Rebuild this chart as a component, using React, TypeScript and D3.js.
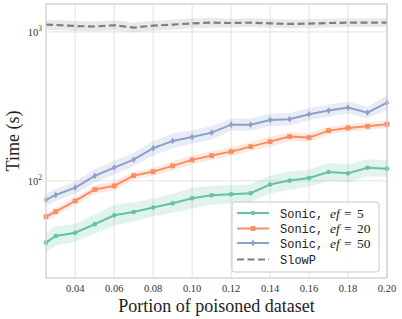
import React from "react";
import * as d3 from "d3";

const portions = [0.025, 0.03, 0.04, 0.05, 0.06, 0.07, 0.08, 0.09, 0.1, 0.11, 0.12, 0.13, 0.14, 0.15, 0.16, 0.17, 0.18, 0.19, 0.2];

const sonic5 = [38.5, 42.7, 44.9, 51.2, 58.8, 61.9, 66.2, 70.8, 76.5, 80.1, 81.4, 82.7, 94.5, 100.5, 104.7, 114.9, 112.6, 122.7, 120.9];
const sonic20 = [57.5, 62.2, 73.4, 87.5, 92.6, 108.6, 115.4, 126.1, 138.4, 147.9, 157.3, 169.9, 183.6, 198.3, 195.3, 217.6, 226.8, 232.8, 240];
const sonic50 = [74.6, 80.5, 90.2, 108.1, 122.8, 139, 165.7, 185.5, 197.2, 210.9, 238.6, 238.6, 256.6, 259.5, 280.4, 296.5, 310.5, 287.4, 335];
const slowP = [1119, 1114, 1096, 1088, 1109, 1069, 1102, 1119, 1142, 1154, 1148, 1154, 1142, 1132, 1137, 1148, 1154, 1154, 1154];

// confidence band, multiplicative half-width
const ci5 = [1.16, 1.16, 1.15, 1.16, 1.17, 1.16, 1.15, 1.16, 1.17, 1.16, 1.15, 1.15, 1.15, 1.15, 1.14, 1.15, 1.15, 1.14, 1.14];
const ci20 = [1.06, 1.06, 1.06, 1.07, 1.07, 1.06, 1.06, 1.07, 1.07, 1.07, 1.07, 1.07, 1.08, 1.07, 1.07, 1.06, 1.06, 1.06, 1.06];
const ci50 = [1.1, 1.1, 1.1, 1.11, 1.11, 1.11, 1.12, 1.12, 1.11, 1.11, 1.1, 1.1, 1.1, 1.1, 1.1, 1.1, 1.1, 1.09, 1.12];
const ciSlow = [1.08, 1.08, 1.08, 1.08, 1.08, 1.08, 1.08, 1.08, 1.08, 1.08, 1.07, 1.07, 1.07, 1.07, 1.07, 1.07, 1.07, 1.07, 1.07];

const xTicks = [0.04, 0.06, 0.08, 0.1, 0.12, 0.14, 0.16, 0.18, 0.2];
const yTicks = [100, 1000];

const width = 402;
const height = 319;
const marginLeft = 46;
const marginRight = 15;
const marginTop = 4;
const marginBottom = 41;

const serif = "'Liberation Serif', 'DejaVu Serif', serif";
const mono = "'Liberation Mono', 'DejaVu Sans Mono', monospace";

const series = [
  { name: "5", values: sonic5, ci: ci5, color: "#66c2a5", marker: "circle" },
  { name: "20", values: sonic20, ci: ci20, color: "#fc8d62", marker: "square" },
  { name: "50", values: sonic50, ci: ci50, color: "#8da0cb", marker: "diamond" },
];

function Marker({ type, x, y, color }: { type: string; x: number; y: number; color: string }) {
  if (type === "circle") return <circle cx={x} cy={y} r={2.3} fill={color} />;
  if (type === "square") return <rect x={x - 2.4} y={y - 2.4} width={4.8} height={4.8} fill={color} />;
  return <path d={`M${x},${y - 3.4}L${x + 2.2},${y}L${x},${y + 3.4}L${x - 2.2},${y}Z`} fill={color} />;
}

export default function App() {
  const x = d3.scaleLinear().domain([0.025, 0.2]).range([marginLeft, width - marginRight]);
  const y = d3.scaleLog().domain([22.3, 1540]).range([height - marginBottom, marginTop]);

  const line = (vals: number[]) =>
    d3
      .line<number>()
      .x((_, i) => x(portions[i]))
      .y((d) => y(d))(vals) || "";
  const band = (vals: number[], ci: number[]) =>
    d3
      .area<number>()
      .x((_, i) => x(portions[i]))
      .y0((d, i) => y(d / ci[i]))
      .y1((d, i) => y(d * ci[i]))(vals) || "";

  const legendX = 232;
  const legendY = 202;
  const rows = [213, 228.5, 243, 259.5];

  return (
    <svg width={width} height={height} style={{ position: "absolute", left: 0, top: 0 }}>
      <rect width={width} height={height} fill="white" />
      {/* grid */}
      {xTicks.map((t) => (
        <line key={t} x1={x(t)} x2={x(t)} y1={marginTop} y2={height - marginBottom} stroke="#e3e3e3" strokeWidth={1} />
      ))}
      {yTicks.map((t) => (
        <line key={t} x1={marginLeft} x2={width - marginRight} y1={y(t)} y2={y(t)} stroke="#e3e3e3" strokeWidth={1} />
      ))}

      {/* bands */}
      <path d={band(slowP, ciSlow)} fill="#9a9a9a" fillOpacity={0.22} />
      {series.map((s) => (
        <path key={s.name} d={band(s.values, s.ci)} fill={s.color} fillOpacity={0.2} />
      ))}

      {/* lines */}
      <path d={line(slowP)} fill="none" stroke="#7f7f7f" strokeWidth={2.2} strokeDasharray="7,3.5" />
      {series.map((s) => (
        <g key={s.name}>
          <path d={line(s.values)} fill="none" stroke={s.color} strokeWidth={2} />
          {s.values.map((v, i) => (
            <Marker key={i} type={s.marker} x={x(portions[i])} y={y(v)} color={s.color} />
          ))}
        </g>
      ))}

      {/* frame */}
      <rect
        x={marginLeft}
        y={marginTop}
        width={width - marginLeft - marginRight}
        height={height - marginTop - marginBottom}
        fill="none"
        stroke="#cccccc"
        strokeWidth={1.2}
      />

      {/* x tick labels */}
      {xTicks.map((t) => (
        <text key={t} x={x(t)} y={height - marginBottom + 14} textAnchor="middle" fontFamily={serif} fontSize={10.5} fill="#333">
          {t.toFixed(2)}
        </text>
      ))}
      {/* y tick labels */}
      {yTicks.map((t) => (
        <text key={t} x={marginLeft - 4} y={y(t) + 4} textAnchor="end" fontFamily={serif} fontSize={10.5} fill="#333">
          10
          <tspan fontSize={7.5} dy={-4.5}>
            {Math.round(Math.log10(t))}
          </tspan>
        </text>
      ))}

      <text x={(marginLeft + width - marginRight) / 2} y={312} textAnchor="middle" fontFamily={serif} fontSize={18} fill="#222">
        Portion of poisoned dataset
      </text>
      <text
        transform={`translate(19,${(marginTop + height - marginBottom) / 2}) rotate(-90)`}
        textAnchor="middle"
        fontFamily={serif}
        fontSize={18}
        fill="#222"
      >
        Time (s)
      </text>

      {/* legend */}
      <rect x={legendX} y={legendY} width={147} height={70} rx={3} fill="white" fillOpacity={0.85} stroke="#c8c8c8" strokeWidth={1} />
      {series.map((s, i) => (
        <g key={s.name}>
          <line x1={237} x2={269} y1={rows[i]} y2={rows[i]} stroke={s.color} strokeWidth={2} />
          <Marker type={s.marker} x={253} y={rows[i]} color={s.color} />
          <text y={rows[i] + 4.5} fontSize={13.5} fill="#222">
            <tspan x={280} fontFamily={mono} fontSize={12}>Sonic,</tspan>
            <tspan x={330} fontFamily={serif} fontStyle="italic">ef</tspan>
            <tspan x={344} fontFamily={serif}>=</tspan>
            <tspan x={357} fontFamily={serif}>{s.name}</tspan>
          </text>
        </g>
      ))}
      <line x1={237} x2={269} y1={rows[3]} y2={rows[3]} stroke="#7f7f7f" strokeWidth={2.2} strokeDasharray="7,3.5" />
      <text x={280} y={rows[3] + 4.5} fontSize={12} fill="#222" fontFamily={mono}>
        SlowP
      </text>
    </svg>
  );
}
